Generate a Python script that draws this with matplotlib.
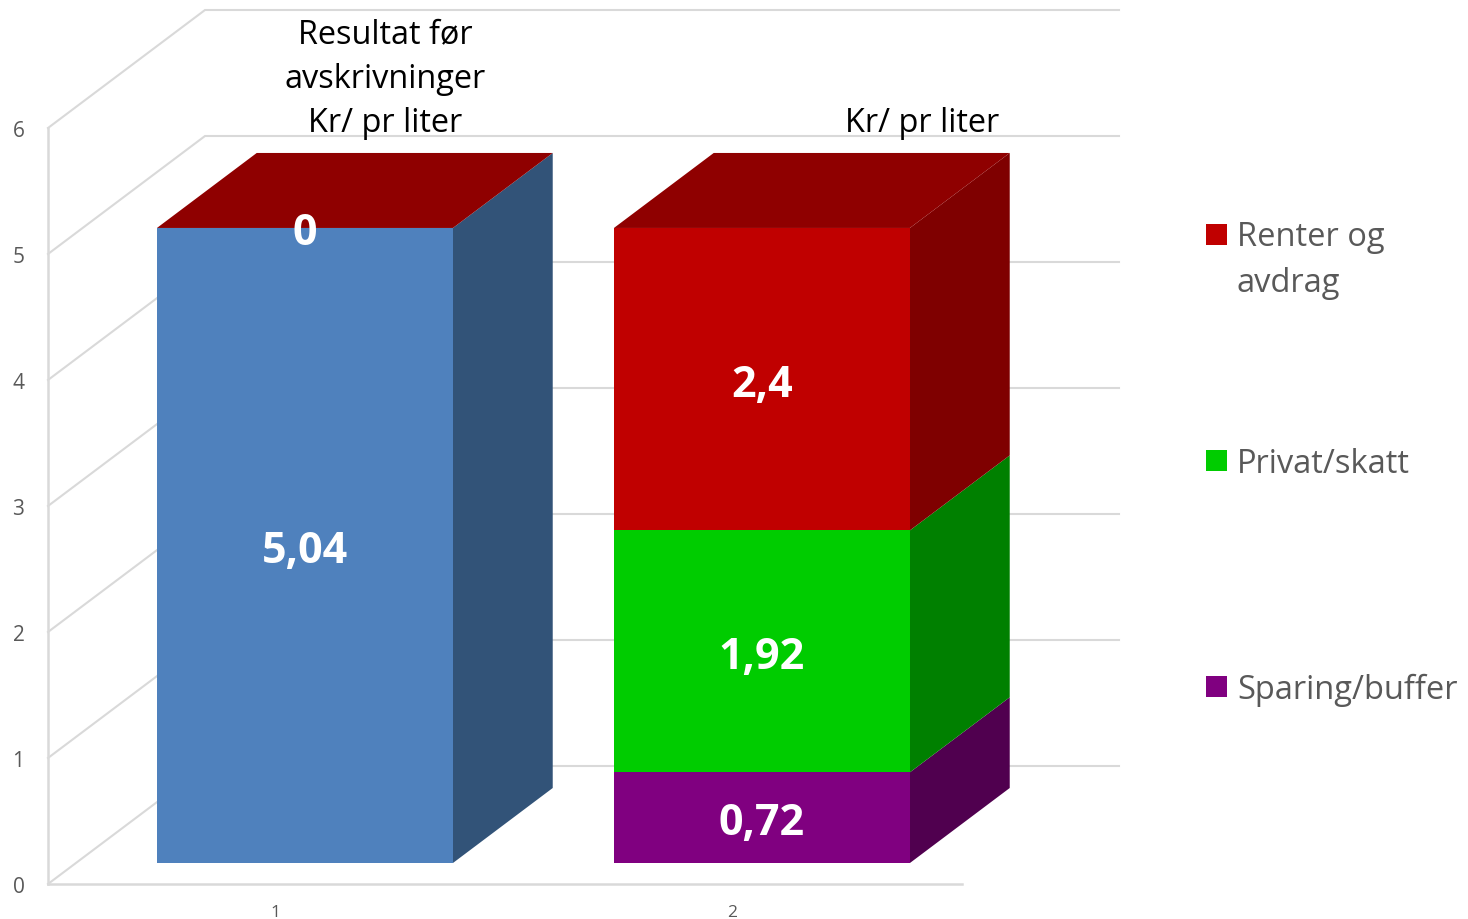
import matplotlib
matplotlib.use('Agg')
import matplotlib.pyplot as plt
from matplotlib.patches import Rectangle

plt.rcParams['font.family'] = ['Open Sans', 'DejaVu Sans']

categories = [1, 2]
resultat = [5.04, 0]
sparing = [0, 0.72]
privat = [0, 1.92]
renter = [0, 2.4]
yticks = [0, 1, 2, 3, 4, 5, 6]
resultat_title = 'Resultat før\navskrivninger\nKr/ pr liter'
fordeling_title = 'Kr/ pr liter'
legend_labels = ['Renter og\navdrag', 'Privat/skatt', 'Sparing/buffer']
legend_colors = ['#c00000', '#00cc00', '#800080']

W, H = 1468, 920
# oblique depth of the wall, px
WALL_DX, WALL_DY = 157, 118
PX_X = 457.0
PX_Y = (885 - 129) / 6.0
# depth range of the bars, as fraction of the wall depth
D0, D1 = 21 / 118.0, 96 / 118.0
BAR_W = 296 / PX_X
BAR_SHIFT = 2 / PX_X
GRID = '#d9d9d9'
TEXT = '#595959'


def proj(x, y, d):
    return x + d * WALL_DX / PX_X, y + d * WALL_DY / PX_Y


def face(ax, pts, color, z):
    xs = [p[0] for p in pts]
    ys = [p[1] for p in pts]
    ax.fill(xs, ys, color=color, lw=0, clip_on=False, zorder=z)


def segment(ax, cat, bottom, height, front, side, z):
    x0, x1 = cat + BAR_SHIFT - BAR_W / 2, cat + BAR_SHIFT + BAR_W / 2
    y0, y1 = bottom, bottom + height
    face(ax, [proj(x0, y0, D0), proj(x1, y0, D0), proj(x1, y1, D0), proj(x0, y1, D0)], front, z + 1)
    face(ax, [proj(x1, y0, D0), proj(x1, y0, D1), proj(x1, y1, D1), proj(x1, y1, D0)], side, z)


def top(ax, cat, y, color, z):
    x0, x1 = cat + BAR_SHIFT - BAR_W / 2, cat + BAR_SHIFT + BAR_W / 2
    face(ax, [proj(x0, y, D0), proj(x1, y, D0), proj(x1, y, D1), proj(x0, y, D1)], color, z)


fig = plt.figure(figsize=(W / 100.0, H / 100.0), dpi=100)
ax = fig.add_axes([48.0 / W, (H - 885.0) / H, 914.0 / W, (885 - 129.0) / H])
x_left = 1 - (275 - 48) / PX_X
ax.set_xlim(x_left, x_left + 914 / PX_X)
ax.set_ylim(0, 6)
ax.patch.set_alpha(0)
for s in ['top', 'right']:
    ax.spines[s].set_visible(False)
for s in ['left', 'bottom']:
    ax.spines[s].set_color(GRID)
    ax.spines[s].set_linewidth(1.8)
ax.set_xticks(categories)
ax.set_yticks(yticks)
ax.tick_params(axis='x', length=0, pad=14.5, labelsize=12.5, labelcolor=TEXT)
ax.tick_params(axis='y', length=0, pad=17, labelsize=15, labelcolor=TEXT)

# walls
x_end = x_left + (1119 - 48) / PX_X
for t in yticks:
    bx, by = proj(x_left, t, 1)
    ax.plot([x_left, bx, x_end], [t, by, by], color=GRID, lw=1.5, clip_on=False, zorder=1,
            solid_joinstyle='miter')

# bars, stacked from the floor up
series = [
    (resultat, '#4f81bd', '#325378'),
    (sparing, '#800080', '#50004f'),
    (privat, '#00cc00', '#008000'),
    (renter, '#c00000', '#7f0000'),
]
z = 2
for i, cat in enumerate(categories):
    bottom = 0
    for vals, front, side in series:
        if vals[i] > 0:
            segment(ax, cat, bottom, vals[i], front, side, z)
            z += 2
        bottom += vals[i]
    top(ax, cat, bottom, '#8f0000', z)
    z += 2

# value labels
for i, cat in enumerate(categories):
    bottom = 0
    for vals, front, side in series:
        if vals[i] > 0 or vals is renter:
            tx, ty = proj(cat + BAR_SHIFT, bottom + vals[i] / 2.0, D0)
            ax.text(tx, ty, str(vals[i]).replace('.', ','), color='white', fontsize=31,
                    fontweight='bold', ha='center', va='center_baseline', clip_on=False, zorder=50)
        bottom += vals[i]

# multi-line text: baseline is the one of the last line
fig.text(385.0 / W, 1 - 132.0 / H, resultat_title, color='black', fontsize=23.4, ha='center',
         va='baseline', linespacing=1.46)
fig.text(922.0 / W, 1 - 132.0 / H, fordeling_title, color='black', fontsize=23.4, ha='center',
         va='baseline')

# legend slots are evenly spaced, first text line level with the swatch
for label, color, swatch, base in zip(legend_labels, legend_colors, [246, 472, 698], [292, 473, 699]):
    fig.patches.append(Rectangle((1206.0 / W, 1 - float(swatch) / H), 21.0 / W, 21.0 / H, color=color,
                                 lw=0, transform=fig.transFigure, figure=fig))
    fig.text(1237.0 / W, 1 - float(base) / H, label, color=TEXT, fontsize=23.5, ha='left',
             va='baseline', linespacing=1.5)

fig.savefig('out.png', dpi=100)
